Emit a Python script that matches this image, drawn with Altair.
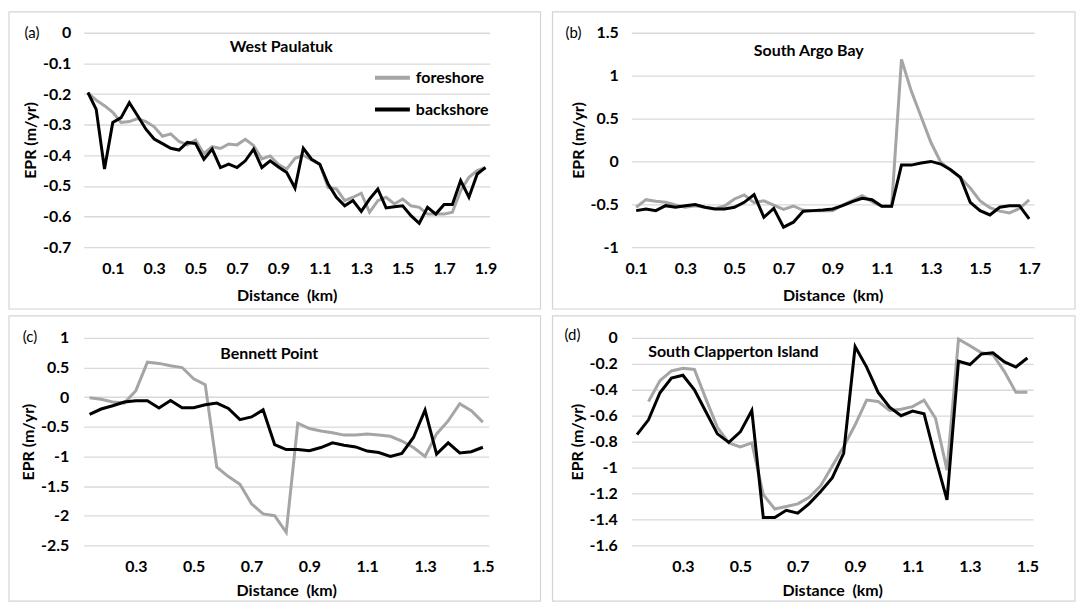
import altair as alt
import pandas as pd

SERIES = ["foreshore", "backshore"]
COLORS = ["#a5a5a5", "#000000"]
FONT = "Lato"
GRID = "#d9d9d9"
MINUS = "\u2212"

# ---------------- (a) West Paulatuk ----------------
dist_a = [-0.02, 0.02, 0.06, 0.10, 0.14, 0.18, 0.22, 0.26, 0.30, 0.34, 0.38, 0.42, 0.46,
          0.50, 0.54, 0.58, 0.62, 0.66, 0.70, 0.74, 0.78, 0.82, 0.86, 0.90, 0.94, 0.98,
          1.02, 1.06, 1.10, 1.14, 1.18, 1.22, 1.26, 1.30, 1.34, 1.38, 1.42, 1.46, 1.50,
          1.54, 1.58, 1.62, 1.66, 1.70, 1.74, 1.78, 1.82, 1.86, 1.90]
a_fore = [-0.196, -0.22, -0.238, -0.26, -0.293, -0.29, -0.28, -0.29, -0.307, -0.338,
          -0.33, -0.355, -0.366, -0.35, -0.395, -0.372, -0.378, -0.363, -0.366, -0.348,
          -0.368, -0.412, -0.402, -0.43, -0.445, -0.41, -0.40, -0.415, -0.43, -0.505,
          -0.51, -0.548, -0.537, -0.524, -0.586, -0.548, -0.537, -0.559, -0.543, -0.565,
          -0.57, -0.592, -0.592, -0.592, -0.586, -0.516, -0.472, -0.45, -0.44]
a_back = [-0.195, -0.25, -0.445, -0.293, -0.277, -0.228, -0.271, -0.315, -0.347, -0.362,
          -0.377, -0.383, -0.358, -0.362, -0.413, -0.38, -0.44, -0.429, -0.44, -0.418,
          -0.38, -0.44, -0.418, -0.438, -0.456, -0.507, -0.377, -0.413, -0.429, -0.494,
          -0.537, -0.565, -0.548, -0.583, -0.543, -0.51, -0.572, -0.568, -0.565, -0.597,
          -0.622, -0.57, -0.592, -0.561, -0.561, -0.483, -0.537, -0.461, -0.44]
xt_a = [0.1, 0.3, 0.5, 0.7, 0.9, 1.1, 1.3, 1.5, 1.7, 1.9]
yt_a = [0, -0.1, -0.2, -0.3, -0.4, -0.5, -0.6, -0.7]

# ---------------- (b) South Argo Bay ----------------
dist_b = [0.10, 0.14, 0.18, 0.22, 0.26, 0.30, 0.34, 0.38, 0.42, 0.46, 0.50, 0.54, 0.58,
          0.62, 0.66, 0.70, 0.74, 0.78, 0.82, 0.86, 0.90, 0.94, 0.98, 1.02, 1.06, 1.10,
          1.14, 1.18, 1.22, 1.26, 1.30, 1.34, 1.38, 1.42, 1.46, 1.50, 1.54, 1.58, 1.62,
          1.66, 1.70]
b_fore = [-0.535, -0.446, -0.465, -0.477, -0.508, -0.535, -0.516, -0.535, -0.55, -0.52,
          -0.438, -0.39, -0.48, -0.46, -0.51, -0.56, -0.52, -0.57, -0.575, -0.574,
          -0.574, -0.508, -0.457, -0.40, -0.469, -0.523, -0.523, 1.19, 0.82, 0.52,
          0.22, -0.01, -0.1, -0.19, -0.31, -0.46, -0.54, -0.58, -0.6, -0.55, -0.45]
b_back = [-0.574, -0.554, -0.574, -0.516, -0.535, -0.516, -0.504, -0.535, -0.554, -0.554,
          -0.535, -0.477, -0.388, -0.651, -0.547, -0.767, -0.709, -0.581, -0.574, -0.566,
          -0.554, -0.516, -0.469, -0.43, -0.446, -0.523, -0.523, -0.043, -0.043, -0.019,
          0.0, -0.031, -0.097, -0.186, -0.477, -0.574, -0.624, -0.535, -0.516, -0.516, -0.67]
xt_b = [0.1, 0.3, 0.5, 0.7, 0.9, 1.1, 1.3, 1.5, 1.7]
yt_b = [1.5, 1, 0.5, 0, -0.5, -1]

# ---------------- (c) Bennett Point / (d) South Clapperton Island ----------------
dist_cd = [0.14, 0.18, 0.22, 0.26, 0.30, 0.34, 0.38, 0.42, 0.46, 0.50, 0.54, 0.58, 0.62,
           0.66, 0.70, 0.74, 0.78, 0.82, 0.86, 0.90, 0.94, 0.98, 1.02, 1.06, 1.10, 1.14,
           1.18, 1.22, 1.26, 1.30, 1.34, 1.38, 1.42, 1.46, 1.50]
c_fore = [-0.01, -0.035, -0.08, -0.1, 0.11, 0.59, 0.57, 0.53, 0.5, 0.31, 0.21, -1.18,
          -1.34, -1.47, -1.8, -1.97, -2.0, -2.28, -0.44, -0.53, -0.57, -0.6, -0.64, -0.64,
          -0.62, -0.64, -0.66, -0.74, -0.85, -1.0, -0.62, -0.4, -0.11, -0.23, -0.42]
c_back = [-0.29, -0.2, -0.145, -0.083, -0.062, -0.062, -0.182, -0.057, -0.177, -0.177,
          -0.128, -0.1, -0.19, -0.38, -0.333, -0.214, -0.8, -0.885, -0.885, -0.905, -0.85,
          -0.77, -0.81, -0.84, -0.91, -0.935, -1.0, -0.95, -0.68, -0.22, -0.96, -0.77,
          -0.94, -0.92, -0.845]
d_fore = [None, -0.49, -0.33, -0.255, -0.235, -0.243, -0.47, -0.69, -0.81, -0.84, -0.81,
          -1.21, -1.32, -1.30, -1.28, -1.23, -1.14, -0.99, -0.84, -0.67, -0.48, -0.49,
          -0.56, -0.55, -0.53, -0.48, -0.62, -1.02, -0.01, -0.06, -0.115, -0.13, -0.26,
          -0.42, -0.42]
d_back = [-0.746, -0.632, -0.423, -0.31, -0.288, -0.40, -0.57, -0.74, -0.806, -0.725,
          -0.56, -1.386, -1.386, -1.33, -1.352, -1.278, -1.185, -1.08, -0.89, -0.067,
          -0.225, -0.42, -0.535, -0.6, -0.565, -0.585, -0.93, -1.25, -0.18, -0.205,
          -0.124, -0.115, -0.185, -0.225, -0.155]
xt_cd = [0.3, 0.5, 0.7, 0.9, 1.1, 1.3, 1.5]
yt_c = [1, 0.5, 0, -0.5, -1, -1.5, -2, -2.5]
yt_d = [0, -0.2, -0.4, -0.6, -0.8, -1, -1.2, -1.4, -1.6]

titles = ["West Paulatuk", "South Argo Bay", "Bennett Point", "South Clapperton Island"]
tags = ["(a)", "(b)", "(c)", "(d)"]


def make_df(dist, fore, back):
    rows = []
    for name, vals in zip(SERIES, [fore, back]):
        for d, v in zip(dist, vals):
            if v is not None:
                rows.append({"dist": d, "epr": v, "series": name})
    return pd.DataFrame(rows)


def panel(df, w, h, xdom, xticks, ydom, yticks, title, tpos, talign, tag, gpos, box,
          lpad, xtp, legend):
    leg = None
    if legend:
        leg = alt.Legend(orient="none", legendX=290, legendY=30, title=None,
                         symbolType="stroke", symbolSize=1225, symbolStrokeWidth=4,
                         labelFont=FONT, labelFontSize=16, labelFontWeight="bold",
                         labelColor="#000000", labelOffset=4, clipHeight=30,
                         rowPadding=2)
    lines = alt.Chart(df).mark_line(strokeWidth=3, strokeJoin="miter").encode(
        x=alt.X("dist:Q",
                scale=alt.Scale(domain=xdom, nice=False, zero=False),
                axis=alt.Axis(values=xticks, format=".1f", title="Distance \u00a0(km)",
                              grid=False, domain=False, ticks=False, labelPadding=13,
                              titlePadding=xtp)),
        y=alt.Y("epr:Q",
                scale=alt.Scale(domain=ydom, nice=False, zero=False),
                axis=alt.Axis(values=yticks, grid=True, gridColor=GRID, gridWidth=1.3,
                              domain=False, ticks=False, labelPadding=lpad,
                              title="EPR (m/yr)", titlePadding=4,
                              labelExpr="replace(format(datum.value, '~g'), '" + MINUS + "', '-')")),
        color=alt.Color("series:N",
                        scale=alt.Scale(domain=SERIES, range=COLORS),
                        legend=leg),
        order=alt.Order("dist:Q"),
    )
    ttl = alt.Chart(pd.DataFrame({"t": [title]})).mark_text(
        font=FONT, fontSize=16, fontWeight="bold", align=talign, baseline="middle",
        color="#000000").encode(text="t:N", x=alt.value(tpos[0]), y=alt.value(tpos[1]))
    tg = alt.Chart(pd.DataFrame({"t": [tag]})).mark_text(
        font=FONT, fontSize=15, align="center", baseline="middle",
        color="#000000").encode(text="t:N", x=alt.value(gpos[0]), y=alt.value(gpos[1]))
    frame = alt.Chart(pd.DataFrame({"t": [tag]})).mark_rect(
        filled=False, stroke="#d4d4d4", strokeWidth=1.2).encode(
        x=alt.value(box[0]), x2=alt.value(box[1]), y=alt.value(box[2]), y2=alt.value(box[3]))
    return alt.layer(frame, lines, ttl, tg).properties(width=w, height=h)


pa = panel(make_df(dist_a, a_fore, a_back), 407, 215, [-0.04, 1.92], xt_a, [-0.7, 0], yt_a,
           titles[0], (198, 14), "center", tags[0], (-52, 0), (-75, 458, -21, 277),
           13, 11, True)
pb = panel(make_df(dist_b, b_fore, b_back), 404, 215, [0.08, 1.72], xt_b, [-1, 1.5], yt_b,
           titles[1], (178, 18), "center", tags[1], (-58, 0), (-79, 445, -21, 277),
           13, 11, False)
pc = panel(make_df(dist_cd, c_fore, c_back), 406, 208, [0.12, 1.52], xt_cd, [-2.5, 1], yt_c,
           titles[2], (186, 16), "center", tags[2], (-54, -1), (-75, 458, -22, 264),
           15, 8, False)
pd_ = panel(make_df(dist_cd, d_fore, d_back), 403, 208, [0.12, 1.52], xt_cd, [-1.6, 0], yt_d,
            titles[3], (17, 14), "left", tags[3], (-59, -3), (-79, 445, -22, 264),
            14, 8, False)

chart = alt.vconcat(
    alt.hconcat(pa, pb, spacing=10),
    alt.hconcat(pc, pd_, spacing=10),
    spacing=5,
).resolve_scale(color="independent").properties(
    padding={"left": 0, "top": 2, "right": 0, "bottom": 0}
).configure_view(stroke=None).configure_axis(
    labelFont=FONT, labelFontSize=16, labelFontWeight="bold", labelColor="#000000",
    titleFont=FONT, titleFontSize=16, titleFontWeight="bold", titleColor="#000000",
)

chart.save("out.html", embed_options={"renderer": "svg", "actions": False})
